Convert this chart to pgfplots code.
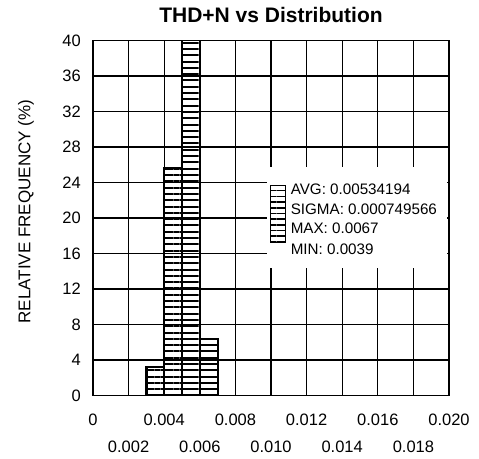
\documentclass[border=0pt]{standalone}
\usepackage{fontspec}
\setmainfont{Liberation Sans}
\usepackage{pgfplots}
\pgfplotsset{compat=1.18}
\usetikzlibrary{patterns.meta,calc}

\begin{document}
\begin{tikzpicture}
\begin{axis}[
  name=ax,
  scale only axis,
  width=356pt, height=355pt,
  xmin=0, xmax=0.020, ymin=0, ymax=40,
  scaled x ticks=false,
  xtick={0,0.004,0.008,0.012,0.016,0.020},
  xticklabels={0,0.004,0.008,0.012,0.016,0.020},
  extra x ticks={0.002,0.006,0.010,0.014,0.018},
  extra x tick labels={0.002,0.006,0.010,0.014,0.018},
  extra x tick style={grid=major, tick label style={yshift=-27pt}},
  ytick={0,4,...,40},
  grid=major,
  major grid style={black, line width=1.3pt},
  major tick length=0pt,
  axis line style={line width=1.8pt},
  every tick label/.append style={font=\fontsize{16.5}{19}\selectfont},
  xticklabel style={anchor=north, inner sep=0pt, yshift=-18pt},
  yticklabel style={anchor=east, inner sep=0pt, xshift=-12pt},
  /pgf/number format/assume math mode=true,
  title={THD+N vs Distribution},
  title style={font=\bfseries\fontsize{21}{23}\selectfont,
    at={(axis description cs:0.5,1)}, anchor=base, yshift=12.5pt},
  ylabel={RELATIVE FREQUENCY (\%)},
  ylabel style={font=\fontsize{17}{19}\selectfont,
    at={(axis description cs:-0.188,0.518)}, anchor=center},
]
% histogram bins of width 0.001 (the 0.005 bin runs off the top)
\addplot[ybar interval, draw=black, line width=2.2pt,
  pattern={Lines[angle=0,distance=6.3pt,line width=2pt]}]
  coordinates {(0.003,3.2) (0.004,25.6) (0.005,64.8) (0.006,6.4) (0.007,0)};

% statistics box
\fill[white] (axis cs:0.00975,14.4) rectangle (axis cs:0.0199,25.8);
\draw[line width=1.8pt, pattern={Lines[angle=0,distance=5.7pt,line width=1.6pt]}]
  (axis cs:0.00997,17.24) rectangle (axis cs:0.01082,23.66);
\node[anchor=west, inner sep=0pt, font=\fontsize{15.2}{17}\selectfont] at (axis cs:0.0111,23.2) {AVG: 0.00534194};
\node[anchor=west, inner sep=0pt, font=\fontsize{15.2}{17}\selectfont] at (axis cs:0.0111,21.0) {SIGMA: 0.000749566};
\node[anchor=west, inner sep=0pt, font=\fontsize{15.2}{17}\selectfont] at (axis cs:0.0111,18.8) {MAX: 0.0067};
\node[anchor=west, inner sep=0pt, font=\fontsize{15.2}{17}\selectfont] at (axis cs:0.0111,16.45) {MIN: 0.0039};
\end{axis}
\pgfresetboundingbox
\path ($(ax.south west)+(-93pt,-63pt)$) rectangle ($(ax.north east)+(30pt,40.5pt)$);
\end{tikzpicture}
\end{document}
